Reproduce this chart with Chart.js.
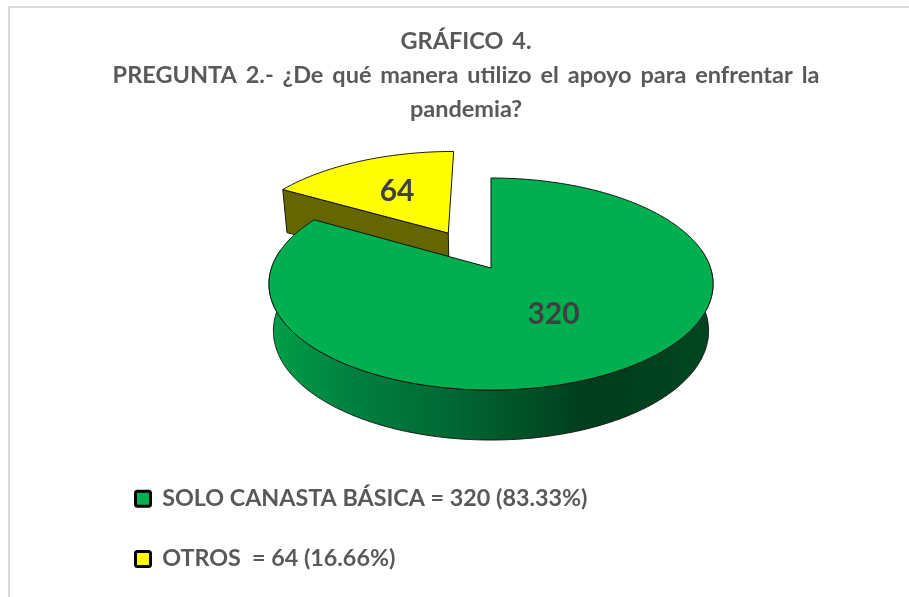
<!DOCTYPE html>
<html>
<head>
<meta charset="utf-8">
<script src="https://cdn.jsdelivr.net/npm/chart.js@4/dist/chart.umd.min.js"></script>
<style>
html, body { margin: 0; background: #fff; overflow: hidden; }
#box { position: relative; width: 909px; height: 597px; }
</style>
</head>
<body>
<div id="box"><canvas id="grafico"></canvas></div>
<script>
const categories = ['SOLO CANASTA BÁSICA', 'OTROS '];
const values = [320, 64];
const percents = ['83.33%', '16.66%'];
const titleLines = ['GRÁFICO 4.', 'PREGUNTA 2.- ¿De qué manera utilizo el apoyo para enfrentar la', 'pandemia?'];

const colors = ['#00B050', '#FFFF00'];
const FONT = 'Lato, Carlito, sans-serif';

// perspective of the tilted pie, measured on the picture
const CX = 491, CY = 268, RX = 219.5, RY = 103.6, K = 0.151;
const EXPLODE = [0, 0.41];
const LABEL_R = 0.554;
const LABEL_SHIFT = [[-3, -7], [0, 0]];

function top3d(u, v) {
    const w = 1 - K * v;
    return [CX + RX * u / w, CY + RY * v / w];
}
function bottom3d(u, v) {
    const p = top3d(u, v);
    return [CX + (p[0] - CX) * 0.98, p[1] + 46.25 + 3.75 * v];
}

function ringPoints(fn, a0, a1, ox, oy) {
    const pts = [];
    const n = Math.max(2, Math.ceil(Math.abs(a1 - a0) / 0.01));
    for (let i = 0; i <= n; i++) {
        const a = a0 + (a1 - a0) * i / n;
        pts.push(fn(ox + Math.cos(a), oy + Math.sin(a)));
    }
    return pts;
}

function fillPath(ctx, pts, fill, stroke) {
    ctx.beginPath();
    pts.forEach((p, i) => i ? ctx.lineTo(p[0], p[1]) : ctx.moveTo(p[0], p[1]));
    ctx.closePath();
    ctx.fillStyle = fill;
    ctx.fill();
    if (stroke) {
        ctx.strokeStyle = stroke;
        ctx.lineWidth = 1;
        ctx.stroke();
    }
}

const pastel3d = {
    id: 'pastel3d',
    beforeDraw(chart) {
        const ctx = chart.ctx;
        ctx.save();
        ctx.fillStyle = '#D9D9D9';
        ctx.fillRect(8, 6, 901, 2);
        ctx.fillRect(8, 6, 2, 591);
        ctx.restore();
    },
    afterLayout(chart) {
        // legend goes under the pie; bottom is past the canvas so the rows do not wrap into a column
        const lg = chart.legend;
        lg.left = 135.5 - 37;
        lg.right = chart.width;
        lg.top = 450;
        lg.bottom = chart.height + 80;

        // the title line is set wide in the picture
        const t = chart.titleBlock;
        if (!t._wide) {
            const draw = t.draw;
            t.draw = function () {
                chart.ctx.wordSpacing = '3.2px';
                draw.call(this);
                chart.ctx.wordSpacing = '0px';
            };
            t._wide = true;
        }
    },
    beforeDatasetDraw(chart) {
        const ctx = chart.ctx;
        const arcs = chart.getDatasetMeta(0).data;
        const dir = i => (arcs[i].startAngle + arcs[i].endAngle) / 2;
        ctx.save();

        // yellow slice goes first, green covers its wall
        [1, 0].forEach(i => {
            const a0 = arcs[i].startAngle, a1 = arcs[i].endAngle;
            const ox = EXPLODE[i] * Math.cos(dir(i)), oy = EXPLODE[i] * Math.sin(dir(i));
            if (i === 1) {
                const wall = [top3d(ox, oy), top3d(ox + Math.cos(a0), oy + Math.sin(a0)),
                    bottom3d(ox + Math.cos(a0), oy + Math.sin(a0)), bottom3d(ox, oy)];
                fillPath(ctx, wall, '#666600', '#1a1a00');
            } else {
                const r = Math.PI / 180;
                const rim = ringPoints(top3d, -10 * r, 190 * r, 0, 0);
                const low = ringPoints(bottom3d, 190 * r, -10 * r, 0, 0);
                const g = ctx.createLinearGradient(275, 0, 708, 0);
                g.addColorStop(0, '#009E48');
                g.addColorStop(0.18, '#008040');
                g.addColorStop(0.42, '#006633');
                g.addColorStop(0.72, '#003D1C');
                g.addColorStop(1, '#004520');
                fillPath(ctx, rim.concat(low), g, '#1a1a1a');
            }
            const slice = [top3d(ox, oy)].concat(ringPoints(top3d, a0, a1, ox, oy));
            fillPath(ctx, slice, arcs[i].options.backgroundColor, '#111');
        });

        // value labels
        ctx.fillStyle = '#404040';
        ctx.font = 'bold 30px ' + FONT;
        ctx.textAlign = 'center';
        ctx.textBaseline = 'middle';
        arcs.forEach((arc, i) => {
            const d = EXPLODE[i] + LABEL_R;
            const p = top3d(d * Math.cos(dir(i)), d * Math.sin(dir(i)));
            ctx.fillText(String(values[i]), p[0] + LABEL_SHIFT[i][0], p[1] + LABEL_SHIFT[i][1]);
        });
        ctx.restore();
        return false; // slices are drawn above in perspective
    }
};

new Chart(document.getElementById('grafico').getContext('2d'), {
    type: 'pie',
    data: {
        labels: categories,
        datasets: [{ data: values, backgroundColor: colors, borderWidth: 0 }]
    },
    options: {
        responsive: true,
        maintainAspectRatio: false,
        animation: false,
        layout: { padding: { left: 23, top: 7 } },
        plugins: {
            tooltip: { enabled: false },
            title: {
                display: true,
                text: titleLines,
                color: '#595959',
                font: { family: FONT, size: 23.5, weight: 'bold', lineHeight: 1.43 },
                padding: { top: 18, bottom: 10 }
            },
            legend: {
                position: 'left',
                align: 'start',
                labels: {
                    padding: 37,
                    boxWidth: 15,
                    boxHeight: 15,
                    useBorderRadius: true,
                    borderRadius: 2,
                    font: { family: FONT, size: 23.3, weight: 'bold' },
                    generateLabels: () => categories.map((c, i) => ({
                        text: c + ' = ' + values[i] + ' (' + percents[i] + ')',
                        fillStyle: colors[i],
                        strokeStyle: '#000',
                        fontColor: '#595959',
                        lineWidth: 3,
                        borderRadius: 2,
                        index: i
                    }))
                }
            }
        }
    },
    plugins: [pastel3d]
});
</script>
</body>
</html>
